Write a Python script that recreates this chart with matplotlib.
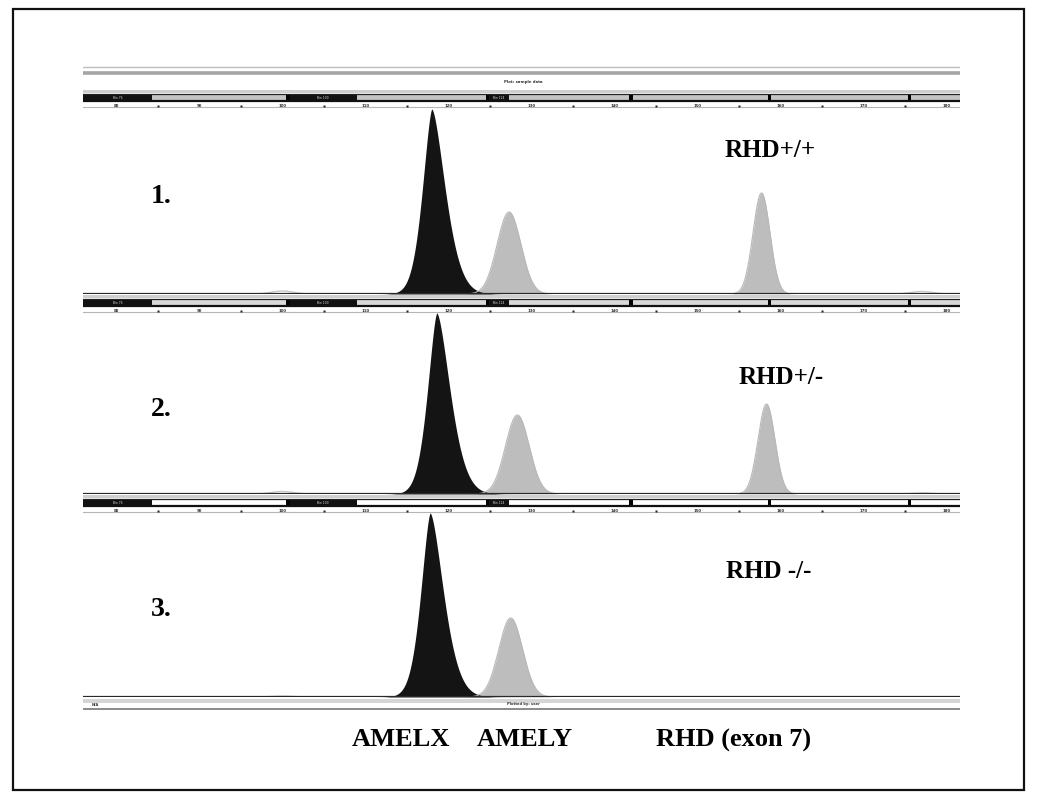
import numpy as np
import matplotlib
matplotlib.use("Agg")
import matplotlib.pyplot as plt
from matplotlib.patches import Rectangle

plt.rcParams['font.family'] = ['Liberation Serif', 'DejaVu Serif']

# sample data (size in bp, height in RFU)
samples = ["1.", "2.", "3."]
genotypes = ["RHD+/+", "RHD+/-", "RHD -/-"]
amelx_bp = [118.0, 118.6, 117.8]
amelx_rfu = [1850, 1810, 1840]
amely_bp = [127.3, 128.3, 127.5]
amely_rfu = [820, 790, 790]
rhd_bp = [157.7, 158.3, 158.0]
rhd_rfu = [1010, 900, 0]
minor_bp = [100.0, 177.0]
minor_rfu = [[30, 25], [25, 10], [10, 0]]
marker_names = ["AMELX", "AMELY", "RHD (exon 7)"]
marker_label_bp = [114.3, 129.2, 154.3]

size_ticks = [80, 90, 100, 110, 120, 130, 140, 150, 160, 170, 180]
size_dots = [85, 95, 105, 115, 125, 135, 145, 155, 165, 175]
bin_bp = [100.7, 124.7, 142.0, 158.7, 175.5]
bin_label_spans = [(76.0, 84.3), (100.7, 109.0), (124.7, 127.3)]

XMIN, XMAX = 76.0, 181.6
YMAX = 1860
W, H = 1038, 800


def frac(x0, y_top, w, h):
    # pixel box -> figure fraction
    return [x0 / W, 1 - (y_top + h) / H, w / W, h / H]


def peak(x, mu, h, sl, sr, p=2.0):
    s = np.where(x < mu, sl, sr)
    return h * np.exp(-0.5 * (np.abs(x - mu) / s) ** p)


def draw_strip(ax, bar_fill):
    ax.set_xlim(XMIN, XMAX)
    ax.set_ylim(20, 0)
    ax.axis('off')
    ax.axhspan(0, 3, color='#cfcfcf', lw=0)
    ax.add_patch(Rectangle((XMIN, 4), XMAX - XMIN, 7, facecolor=bar_fill,
                           edgecolor='none'))
    ax.plot([XMIN, XMAX], [4, 4], color='#222222', lw=0.9)
    ax.plot([XMIN, XMAX], [11, 11], color='#111111', lw=1.6)
    for a, b in bin_label_spans:
        ax.add_patch(Rectangle((a, 5), b - a, 5, facecolor='#111111', edgecolor='none'))
        ax.text((a + b) / 2, 7.6, "Bin " + str(int(a)), fontsize=2.2, color='#dddddd',
                ha='center', va='center', family='DejaVu Sans')
    for b in bin_bp:
        ax.add_patch(Rectangle((b - 0.2, 3.5), 0.4, 8, facecolor='#000000', edgecolor='none'))
    ax.plot([XMIN, XMAX], [16.5, 16.5], color='#b5b5b5', lw=0.8)
    ax.plot(size_dots, [16.3] * len(size_dots), 's', color='#222222', ms=1.8, mec='none')
    for t in size_ticks:
        ax.text(t, 15.8, str(t), fontsize=2.8, color='#333333', ha='center', va='center',
                family='DejaVu Sans', fontweight='bold')


fig = plt.figure(figsize=(W / 100, H / 100), dpi=100)

# outer frame
frame = fig.add_axes([0, 0, 1, 1])
frame.set_xlim(0, W)
frame.set_ylim(H, 0)
frame.axis('off')
frame.add_patch(Rectangle((12.5, 8.5), 1011.5, 781.5, fill=False, edgecolor='#111111', lw=1.6))

# header above first panel
head = fig.add_axes(frac(83, 60, 877, 30))
head.set_xlim(XMIN, XMAX)
head.set_ylim(30, 0)
head.axis('off')
head.plot([XMIN, XMAX], [7, 7], color='#bdbdbd', lw=1.0)
head.plot([XMIN, XMAX], [13, 13], color='#a5a5a5', lw=2.6)
head.text(129.0, 22, "Plot: sample data", fontsize=2.8, color='#333333', ha='center',
          va='center', family='DejaVu Sans', fontweight='bold')

bases = [294, 494, 697]
strip_tops = [90, 295, 495]
strip_fill = ['#c4c4c4', '#d9d9d9', '#ffffff']
for top, fill in zip(strip_tops, strip_fill):
    draw_strip(fig.add_axes(frac(83, top, 877, 20)), fill)

x = np.linspace(XMIN, XMAX, 4000)
for i in range(3):
    ax = fig.add_axes(frac(83, bases[i] - 186, 877, 186))
    ax.set_xlim(XMIN, XMAX)
    ax.set_ylim(0, YMAX)
    ax.axis('off')

    black = peak(x, amelx_bp[i], amelx_rfu[i], 1.05, 1.5, p=1.6)
    gray = (peak(x, amely_bp[i], amely_rfu[i], 1.43, 1.43) +
            peak(x, rhd_bp[i], rhd_rfu[i], 1.02, 1.02))
    faint = sum(peak(x, m, r, 1.3, 1.3) for m, r in zip(minor_bp, minor_rfu[i]))

    ax.plot(x, faint, color='#c8c8c8', lw=1.0)
    ax.fill_between(x, 0, gray, color='#bdbdbd', lw=0)
    ax.plot(x, gray, color='#b8b8b8', lw=0.8)
    ax.fill_between(x, 0, black, color='#141414', lw=0)
    ax.plot([XMIN, XMAX], [0, 0], color='#2a2a2a', lw=1.6, solid_capstyle='butt')

    ax.text(85.4, [970, 850, 880][i], samples[i], fontsize=20, fontweight='bold',
            ha='center', va='center')
    ax.text([158.7, 160.1, 158.6][i], [1430, 1170, 1250][i], genotypes[i], fontsize=18,
            fontweight='bold', ha='center', va='center')

    if i == 2:
        for name, pos in zip(marker_names, marker_label_bp):
            ax.text(pos, -430, name, fontsize=19, fontweight='bold', ha='center',
                    va='center', clip_on=False)

# bottom strip under last panel
foot = fig.add_axes(frac(83, 697, 877, 16))
foot.set_xlim(XMIN, XMAX)
foot.set_ylim(16, 0)
foot.axis('off')
foot.axhspan(1.5, 5.5, color='#d5d5d5', lw=0)
foot.plot([XMIN, XMAX], [12, 12], color='#8a8a8a', lw=1.4)
foot.text(77.0, 7.5, "N/A", fontsize=2.6, color='#333333', ha='left', va='center',
          family='DejaVu Sans', fontweight='bold')
foot.text(129.0, 7.5, "Plotted by: user", fontsize=2.6, color='#333333', ha='center',
          va='center', family='DejaVu Sans', fontweight='bold')

fig.savefig("out.png", dpi=100)
